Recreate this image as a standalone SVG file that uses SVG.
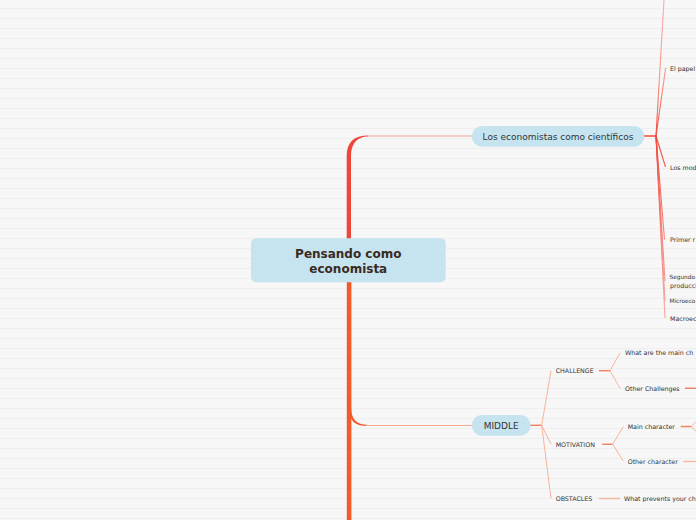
<svg xmlns="http://www.w3.org/2000/svg" width="696" height="520" viewBox="0 0 696 520">
  <defs>
    <pattern id="bg" x="0" y="0" width="696" height="10" patternUnits="userSpaceOnUse">
      <rect width="696" height="10" fill="#f7f7f7"/>
      <rect y="7.9" width="696" height="1.2" fill="#efefef"/>
    </pattern>
    <linearGradient id="gDown" gradientUnits="userSpaceOnUse" x1="0" y1="136" x2="0" y2="330">
      <stop offset="0" stop-color="#f0483c"/>
      <stop offset="0.5" stop-color="#f5857a"/>
      <stop offset="1" stop-color="#f8b0a8"/>
    </linearGradient>
    <linearGradient id="gUp" gradientUnits="userSpaceOnUse" x1="0" y1="136" x2="0" y2="0">
      <stop offset="0" stop-color="#f0483c"/>
      <stop offset="0.4" stop-color="#f6958b"/>
      <stop offset="1" stop-color="#f8b0a8"/>
    </linearGradient>
    <style>
      .main { fill: #c5e4f0; }
      .ctext { font-family: "DejaVu Sans", Verdana, sans-serif; font-size: 12px; font-weight: bold; fill: #3b2a1e; text-anchor: middle; }
      .ptext { font-family: "DejaVu Sans", Verdana, sans-serif; font-size: 9px; fill: #333333; text-anchor: middle; }
      .label { font-family: "DejaVu Sans", Verdana, sans-serif; font-size: 6.3px; fill: #333333; }
      .small { font-size: 5.8px; }
      .fanR { fill: none; stroke-width: 1.1; }
      .fanO { fill: none; stroke: #f9b49c; stroke-width: 1; }
      .stubO { fill: none; stroke: #f3805c; stroke-width: 1.4; }
      .stubL { fill: none; stroke: #f9b7a0; stroke-width: 1.4; }
    </style>
  </defs>

  <rect width="696" height="520" fill="url(#bg)"/>

  <g id="connectors">
    <!-- trunk upper (red) -->
    <path d="M346.7,240 L346.7,156 C346.7,142 354,135.4 368,135.4 L368,136.6 C358,136.6 351,143 351,156 L351,240 Z" fill="#ef463a"/>
    <line x1="366" y1="136" x2="473" y2="136" stroke="#f6a398" stroke-width="1"/>
    <!-- trunk lower (orange) -->
    <rect x="346.8" y="281" width="4.6" height="239" fill="#f15a2a"/>
    <path d="M351,406 C351,419 356,424.9 368,424.9 L368,426.1 C355,426.1 350,421 350,412 Z" fill="#f15a2a"/>
    <line x1="366" y1="425.5" x2="473" y2="425.5" stroke="#f8a98e" stroke-width="1"/>

    <!-- economistas fan -->
    <line x1="644" y1="136" x2="656" y2="136" stroke="#f0483c" stroke-width="1.5"/>
    <path class="fanR" stroke="url(#gUp)" d="M656,136 L664,0"/>
    <path class="fanR" stroke="url(#gUp)" d="M656,136 L665.7,67.7"/>
    <path class="fanR" stroke="url(#gDown)" d="M656,136 L665.5,167"/>
    <path class="fanR" stroke="url(#gDown)" d="M656,136 L664.5,239.5"/>
    <path class="fanR" stroke="url(#gDown)" d="M656,136 L665,281"/>
    <path class="fanR" stroke="url(#gDown)" d="M656,136 L665,301.5"/>
    <path class="fanR" stroke="url(#gDown)" d="M656,136 L665,318"/>

    <!-- MIDDLE fan -->
    <line x1="530" y1="425.3" x2="541.7" y2="425.3" class="stubO"/>
    <path class="fanO" d="M541.7,425.3 L551,370.7 M541.7,425.3 L551,444.3 M541.7,425.3 L551,498.3"/>

    <!-- CHALLENGE -->
    <line x1="599" y1="370.7" x2="610" y2="370.7" class="stubO"/>
    <path class="fanO" d="M610,370.7 L620,353 M610,370.7 L620,388.3"/>
    <line x1="685" y1="388.3" x2="696" y2="388.3" class="stubO"/>

    <!-- MOTIVATION -->
    <line x1="602.3" y1="444.3" x2="612.7" y2="444.3" class="stubO"/>
    <path class="fanO" d="M612.7,444.3 L623.3,426.7 M612.7,444.3 L623.3,461"/>
    <line x1="680.7" y1="426.5" x2="691.5" y2="426.5" class="stubO"/>
    <path class="fanO" d="M691.5,426.5 L696,421.5 M691.5,426.5 L696,431.5"/>
    <line x1="683.3" y1="461.5" x2="696" y2="461.5" class="stubL" stroke-width="1.8"/>

    <!-- OBSTACLES -->
    <line x1="599" y1="498.5" x2="620" y2="498.5" class="stubL"/>
  </g>

  <g id="central">
    <rect x="251" y="238.3" width="194.7" height="44" rx="5" class="main"/>
    <text class="ctext" x="348.3" y="257.6">Pensando como</text>
    <text class="ctext" x="348.3" y="272.6">economista</text>
  </g>

  <g id="economistas">
    <rect x="471.7" y="126" width="172.6" height="20.7" rx="10.35" class="main"/>
    <text class="ptext" x="558" y="139.6">Los economistas como científicos</text>
  </g>

  <g id="papel"><text class="label" x="670" y="71.2">El papel</text></g>
  <g id="modelos"><text class="label" x="670" y="169.9">Los mod</text></g>
  <g id="primer"><text class="label" x="670" y="241.5">Primer r</text></g>
  <g id="segundo"><text class="label small" x="669.5" y="279.3">Segundo</text><text class="label" x="670" y="287.9">producci</text></g>
  <g id="micro"><text class="label small" x="669.5" y="303">Microeco</text></g>
  <g id="macro"><text class="label" x="670" y="320.5">Macroec</text></g>

  <g id="middle">
    <rect x="471.7" y="415" width="59" height="20.7" rx="10.35" class="main"/>
    <text class="ptext" x="501.2" y="428.6">MIDDLE</text>
  </g>

  <g id="challenge"><text class="label" x="555.7" y="372.9">CHALLENGE</text></g>
  <g id="main-challenges"><text class="label" x="625" y="354.9">What are the main ch</text></g>
  <g id="other-challenges"><text class="label" x="625" y="390.5">Other Challenges</text></g>

  <g id="motivation"><text class="label" x="555.7" y="446.5">MOTIVATION</text></g>
  <g id="main-character"><text class="label" x="627.7" y="428.6">Main character</text></g>
  <g id="other-character"><text class="label" x="627.7" y="463.6">Other character</text></g>

  <g id="obstacles"><text class="label" x="555.7" y="500.5">OBSTACLES</text></g>
  <g id="prevents"><text class="label" x="624" y="500.9">What prevents your ch</text></g>
</svg>
